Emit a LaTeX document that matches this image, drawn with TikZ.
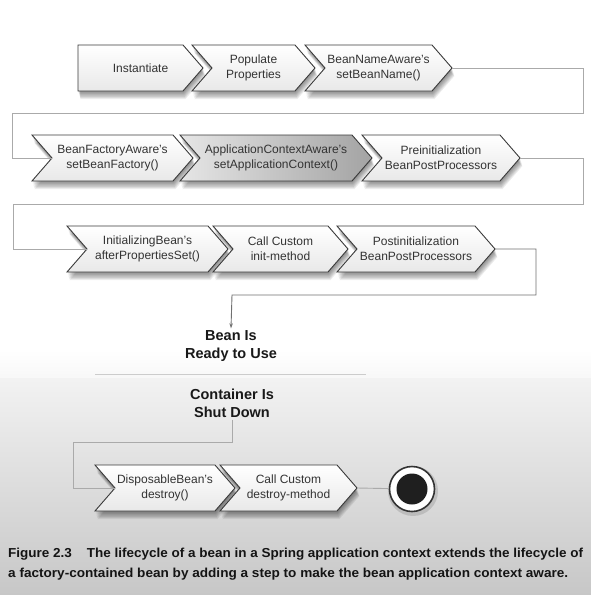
\documentclass[tikz,border=0pt]{standalone}
\usepackage{fontspec}
\setmainfont{Liberation Sans}
\usetikzlibrary{arrows.meta}
\definecolor{txt}{HTML}{333333}
\definecolor{edgec}{HTML}{3A3A3A}
\definecolor{lnk}{HTML}{AAAAAA}
\definecolor{lnkdark}{HTML}{707070}
\tikzset{
  chevtext/.style={text=txt, align=center, font=\fontsize{12}{15}\selectfont, inner sep=0pt},
  whitefill/.style={top color=white, bottom color=black!9},
  grayfill/.style={left color=black!10, right color=black!36},
  conn/.style={draw=lnk, line width=0.9pt},
  conndark/.style={draw=lnkdark, line width=0.9pt},
  bigtext/.style={align=center, font=\fontsize{14.5}{18}\selectfont\bfseries, text=black!90, inner sep=2pt},
  captext/.style={anchor=base west, inner sep=0pt, font=\fontsize{13}{16}\selectfont\bfseries, text=black!92},
}
% #1 name, #2 left x, #3 right corner x, #4 centre y, #5 notch depth, #6 fill style, #7 text
\newcommand{\chev}[7]{%
  \foreach \s in {1,...,7}{%
    \fill[black,opacity=0.075,shift={(0.35*\s,1.15*\s)}] (#2,#4-23) -- (#3,#4-23) -- (#3+20,#4) -- (#3,#4+23) -- (#2,#4+23) -- (#2+#5,#4) -- cycle;}
  \path[draw=edgec,line width=0.9pt,line join=miter,#6] (#2,#4-23) -- (#3,#4-23) -- (#3+20,#4) -- (#3,#4+23) -- (#2,#4+23) -- (#2+#5,#4) -- cycle;
  \node[chevtext] (#1) at ({(#2+#3+20)/2},#4) {#7};
  \coordinate (#1-in) at (#2+#5,#4);
  \coordinate (#1-out) at (#3+20,#4);
}
\begin{document}
\begin{tikzpicture}[x=1pt,y=-1pt]
\useasboundingbox (0,0) rectangle (591,595);
\fill[white] (0,0) rectangle (591,595);
\shade[top color=white, bottom color=black!3] (0,350) rectangle (591,378);
\shade[top color=black!5, bottom color=black!22] (0,378) rectangle (591,595);

% row 1
\chev{inst}{78}{183}{68}{0}{whitefill}{Instantiate}
\chev{pop}{192}{295}{68}{20}{whitefill}{Populate\\Properties}
\chev{bna}{305}{432}{68}{20}{whitefill}{BeanNameAware's\\setBeanName()}
% row 2
\chev{bfa}{32}{173}{158}{20}{whitefill}{BeanFactoryAware's\\setBeanFactory()}
\chev{aca}{180}{352}{158}{20}{grayfill}{ApplicationContextAware's\\setApplicationContext()}
\chev{pbp}{362}{500}{158}{20}{whitefill}{Preinitialization\\BeanPostProcessors}
% row 3
\chev{ib}{67}{208}{249}{20}{whitefill}{InitializingBean's\\afterPropertiesSet()}
\chev{cci}{213}{328}{249}{20}{whitefill}{Call Custom\\init-method}
\chev{pbq}{337}{475}{249}{20}{whitefill}{Postinitialization\\BeanPostProcessors}
% row 4
\chev{db}{95}{215}{488}{20}{whitefill}{DisposableBean's\\destroy()}
\chev{ccd}{220}{337}{488}{20}{whitefill}{Call Custom\\destroy-method}

% states
\node[bigtext] (ready) at (231,346) {Bean Is\\Ready to Use};
\node[bigtext] (shut) at (232,403) {Container Is\\Shut Down};
\draw[draw=black!20, line width=0.9pt] (95,374) -- (366,374);

% end state
\fill[black,opacity=0.12] (413,491) circle (25);
\node[circle, draw=black!80, line width=1.6pt, fill=white, minimum size=45pt, inner sep=0pt] (end) at (412,489) {};
\node[circle, fill=black!88, minimum size=31pt, inner sep=0pt] (endin) at (end) {};

% connectors
\draw[conn] (bna-out) -- (583,68) -- (583,113) -- (12,113) -- (12,158) -- (bfa-in);
\draw[conn] (pbp-out) -- (583,158) -- (583,204) -- (13,204) -- (13,249) -- (ib-in);
\draw[conndark, -{Stealth[length=5pt,width=3.5pt]}] (pbq-out) -- (536,249) -- (536,295) -- (232,295) -- (ready.north);
\draw[conn] (shut.south) -- (232,442) -- (73,442) -- (73,488) -- (db-in);
\draw[conn] (ccd-out) -- (end);

% caption
\node[captext] (cap1) at (8,557) {\resizebox{575pt}{\height}{Figure 2.3\hspace{1.1em}The lifecycle of a bean in a Spring application context extends the lifecycle of}};
\node[captext] (cap2) at (8,577) {\resizebox{560pt}{\height}{a factory-contained bean by adding a step to make the bean application context aware.}};
\end{tikzpicture}
\end{document}
